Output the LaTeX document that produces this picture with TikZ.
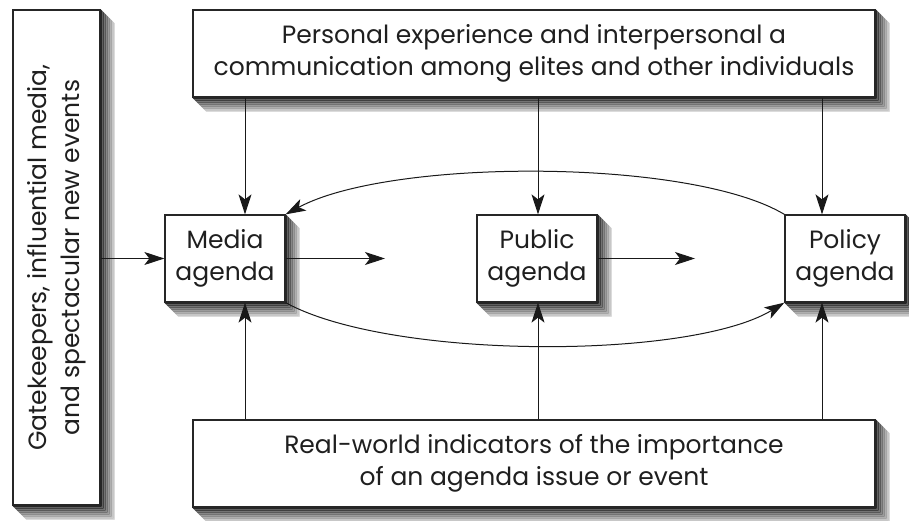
\documentclass[tikz,border=0pt]{standalone}
\usepackage{fontspec}
\setmainfont{Poppins}
\usetikzlibrary{arrows.meta,calc,backgrounds}
\tikzset{
  box/.style={draw=black!85, line width=1.3pt, fill=white, inner sep=0pt},
  txt/.style={align=center, text=black!88, font=\fontsize{25}{32.5}\selectfont},
  conn/.style={line width=1pt, draw=black!90, -{Stealth[length=20pt,width=13pt,inset=5pt]}},
}
\newcommand{\boxshadow}[1]{%
  \foreach \a/\b/\c in {0/2/85,2/4/75,4/6/65,6/8/55,8/10/45,10/12/35,12/14/22}{
    \fill[black!\c] ($(#1.north east)+(\a,\a)$) -- ($(#1.north east)+(\b,\b)$) -- ($(#1.south east)+(\b,\b)$) -- ($(#1.south east)+(\a,\a)$) -- cycle;
    \fill[black!\c] ($(#1.south west)+(\a,\a)$) -- ($(#1.south east)+(\a,\a)$) -- ($(#1.south east)+(\b,\b)$) -- ($(#1.south west)+(\b,\b)$) -- cycle;
  }
}
\begin{document}
\begin{tikzpicture}[x=1pt,y=-1pt]
\useasboundingbox (0,0) rectangle (909,521);
% boxes
\node[box, minimum width=87pt, minimum height=495pt] (gate) at (56.5,257.5) {};
\node[txt, rotate=90] (gatetext) at (gate) {Gatekeepers, influential media,\\and spectacular new events};
\node[box, minimum width=682pt, minimum height=87pt] (top) at (534,53.5) {};
\node[txt] (toptext) at (top) {Personal experience and interpersonal a\\communication among elites and other individuals};
\node[box, minimum width=682pt, minimum height=87pt] (bot) at (534,463.5) {};
\node[txt] (bottext) at (bot) {Real-world indicators of the importance\\of an agenda issue or event};
\node[box, minimum width=120pt, minimum height=87pt] (media) at (225,258.5) {};
\node[txt] (mediatext) at (media) {Media\\agenda};
\node[box, minimum width=120pt, minimum height=87pt] (public) at (537,258.5) {};
\node[txt] (publictext) at (public) {Public\\agenda};
\node[box, minimum width=120pt, minimum height=87pt] (policy) at (845,258.5) {};
\node[txt] (policytext) at (policy) {Policy\\agenda};
\begin{scope}[on background layer]
  \boxshadow{gate}
  \boxshadow{top}
  \boxshadow{bot}
  \boxshadow{media}
  \boxshadow{public}
  \boxshadow{policy}
\end{scope}
% free ends
\coordinate (mh) at (385,258.5);
\coordinate (ph) at (695,258.5);
% vertical arrows
\draw[conn] ($(top.south -| media.north)+(20,0)$) -- ($(media.north)+(20,0)$);
\draw[conn] ($(top.south -| public.north)+(1,0)$) -- ($(public.north)+(1,0)$);
\draw[conn] ($(top.south -| policy.north)+(-23,0)$) -- ($(policy.north)+(-23,0)$);
\draw[conn] ($(bot.north -| media.south)+(20,0)$) -- ($(media.south)+(20,0)$);
\draw[conn] ($(bot.north -| public.south)+(1,0)$) -- ($(public.south)+(1,0)$);
\draw[conn] ($(bot.north -| policy.south)+(-23,0)$) -- ($(policy.south)+(-23,0)$);
% horizontal arrows
\draw[conn] (gate.east |- media.west) -- (media.west);
\draw[conn] (media.east) -- (mh);
\draw[conn] (public.east) -- (ph);
% curves
\draw[conn] (policy.north west) .. controls (690,158) and (390,158) .. (media.north east);
\draw[conn] (media.south east) .. controls (390,360) and (690,360) .. (policy.south west);
\end{tikzpicture}
\end{document}
